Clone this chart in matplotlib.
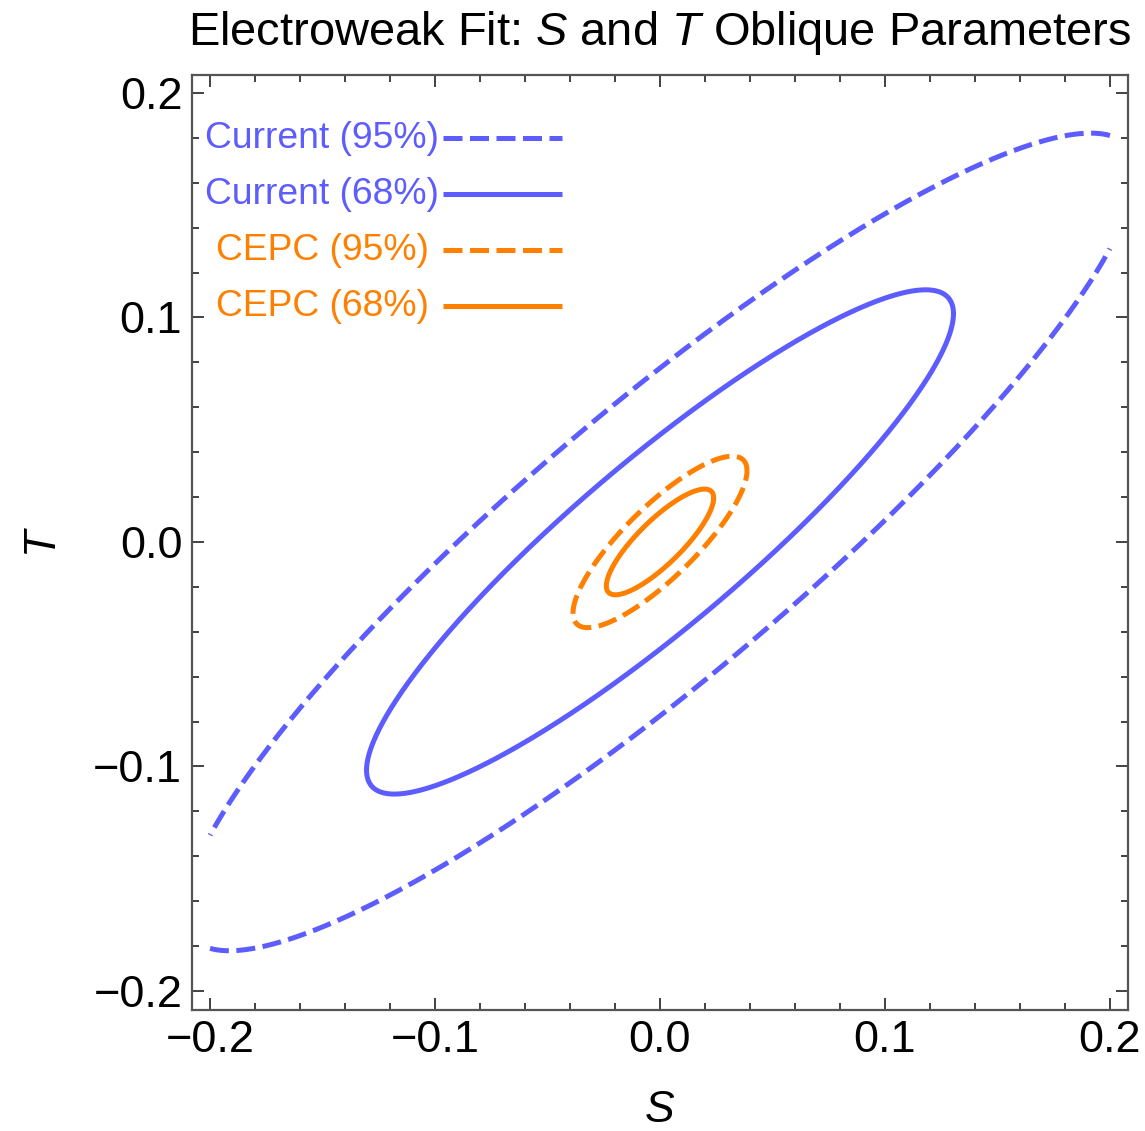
import numpy as np
import matplotlib
matplotlib.use("Agg")
import matplotlib.pyplot as plt
from matplotlib.ticker import MultipleLocator, FuncFormatter

plt.rcParams['font.family'] = ['Liberation Sans', 'DejaVu Sans']
plt.rcParams['mathtext.fontset'] = 'custom'
plt.rcParams['mathtext.rm'] = 'Liberation Sans'
plt.rcParams['mathtext.it'] = 'Liberation Sans:italic'

# ---- data ----
experiments = ["Current", "CEPC"]
center_S = [0.0, 0.0]
center_T = [0.0, 0.0]
sigma_S = [0.0864, 0.0158]
sigma_T = [0.0744, 0.0156]
rho_ST = [0.905, 0.83]
cl_labels = ["95%", "68%"]
delta_chi2 = [5.991, 2.279]          # 2-dof levels for 95% and 68%
S_domain = [-0.2, 0.2]               # contour plot domain
colors = ["#5C5CFF", "#FF8000"]
line_styles = ["dashed", "solid"]

W, H = 1145, 1131
fig = plt.figure(figsize=(W / 100, H / 100), dpi=100)
ax = fig.add_axes([192 / W, 1 - 1010 / H, (1128 - 192) / W, (1010 - 75) / H])

lw = 3.6
dash = (0, (3.8, 1.5))
t = np.linspace(0, 2 * np.pi, 4001)
for i, name in enumerate(experiments):
    cov = np.array([[sigma_S[i] ** 2, rho_ST[i] * sigma_S[i] * sigma_T[i]],
                    [rho_ST[i] * sigma_S[i] * sigma_T[i], sigma_T[i] ** 2]])
    L = np.linalg.cholesky(cov)
    for j, lev in enumerate(delta_chi2):
        circ = np.vstack([np.cos(t), np.sin(t)]) * np.sqrt(lev)
        pts = L @ circ
        s = center_S[i] + pts[0]
        tt = center_T[i] + pts[1]
        outside = (s < S_domain[0]) | (s > S_domain[1])
        s = np.where(outside, np.nan, s)
        tt = np.where(outside, np.nan, tt)
        if outside.any():
            k0 = np.argmax(outside)
            s = np.roll(s, -k0)
            tt = np.roll(tt, -k0)
        ls = dash if line_styles[j] == "dashed" else "solid"
        ax.plot(s, tt, color=colors[i], lw=lw, linestyle=ls,
                dash_capstyle='butt', solid_capstyle='round')

ax.set_xlim(-0.208, 0.208)
ax.set_ylim(-0.2085, 0.208)
fmt = FuncFormatter(lambda v, p: f"{v:.1f}".replace("-", "\u2212") if abs(v) > 1e-9 else "0.0")
for axis in (ax.xaxis, ax.yaxis):
    axis.set_major_locator(MultipleLocator(0.1))
    axis.set_minor_locator(MultipleLocator(0.02))
    axis.set_major_formatter(fmt)
ax.tick_params(which='both', direction='in', top=True, right=True, color='#333333', width=1.3)
ax.tick_params(which='major', length=8.5, labelsize=32.5, pad=7)
ax.tick_params(which='minor', length=5)
for sp in ax.spines.values():
    sp.set_color('#555555')
    sp.set_linewidth(1.6)

fig.text(660 / W, 1 - 1110 / H, "$S$", fontsize=32, ha='center', va='center')
fig.text(45 / W, 1 - 542 / H, "$T$", fontsize=32, ha='center', va='center', rotation=90)
fig.text(660 / W, 1 - 33 / H, "Electroweak Fit: $S$ and $T$ Oblique Parameters",
         fontsize=33.8, ha='center', va='center')

# legend (text on the left, sample line on the right)
def ax_x(px):
    return (px - 192) / (1128 - 192)

def ax_y(py):
    return (1010 - py) / (1010 - 75)

rows_y = [138, 194, 250, 306]
k = 0
for i, name in enumerate(experiments):
    for j, cl in enumerate(cl_labels):
        y = ax_y(rows_y[k])
        ax.text(ax_x(322), ax_y(rows_y[k] + 1), f"{name} ({cl})", color=colors[i],
                fontsize=26.8, ha='center', va='center', transform=ax.transAxes)
        ls = dash if line_styles[j] == "dashed" else "solid"
        ax.plot([ax_x(443), ax_x(562)], [y, y], color=colors[i], lw=lw, linestyle=ls,
                dash_capstyle='butt', solid_capstyle='butt', transform=ax.transAxes)
        k += 1

fig.savefig("out.png", dpi=100, facecolor='white')
